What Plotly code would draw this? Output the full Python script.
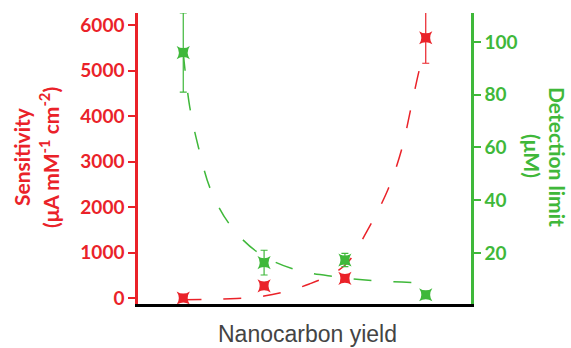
import plotly.graph_objects as go

# Data
categories = [1, 2, 3, 4]
sensitivity = [0, 265, 430, 5720]
sensitivity_err = [0, 0, 0, 560]
detection = [96, 16.3, 17.3, 4.1]
detection_err = [15, 4.7, 2.5, 0]

# Fit curves
red_fit_x = [1.0, 1.5, 2.0, 2.56, 3.0, 3.28, 3.53, 3.70, 3.82, 3.93, 3.98]
red_fit_y = [-40, -20, 44, 308, 720, 1494, 2374, 3253, 4198, 5077, 5330]
green_fit_x = [1.0, 1.08, 1.19, 1.34, 1.59, 1.94, 2.40, 2.90, 3.37, 3.99]
green_fit_y = [95.9, 75.4, 59.8, 43.9, 30.1, 19.8, 13.5, 10.9, 9.4, 8.6]

RED = "#ea2229"
GREEN = "#3fb83a"

L, R, T, B = 138, 100, 13, 44
W, H = 571, 348

fig = go.Figure()

fig.add_trace(go.Scatter(
    x=red_fit_x, y=red_fit_y, mode="lines", line=dict(color=RED, width=1.5, dash="18px,22px", shape="spline"),
    hoverinfo="skip", showlegend=False, yaxis="y"))
fig.add_trace(go.Scatter(
    x=green_fit_x, y=green_fit_y, mode="lines", line=dict(color=GREEN, width=1.5, dash="18px,22px", shape="spline"),
    hoverinfo="skip", showlegend=False, yaxis="y2"))

fig.add_trace(go.Scatter(
    x=categories, y=sensitivity, mode="markers",
    marker=dict(symbol="star-square", size=12, color=RED),
    error_y=dict(type="data", array=sensitivity_err, color=RED, thickness=1.2, width=3.5),
    showlegend=False, yaxis="y"))
fig.add_trace(go.Scatter(
    x=categories, y=detection, mode="markers",
    marker=dict(symbol="star-square", size=12, color=GREEN),
    error_y=dict(type="data", array=detection_err, color=GREEN, thickness=1.2, width=3.5),
    showlegend=False, yaxis="y2"))

tickfont_red = dict(family="Lato", size=19, color=RED, weight="bold")
tickfont_green = dict(family="Lato", size=19, color=GREEN, weight="bold")
title_red = dict(family="Lato", size=21, color=RED, weight="bold")
title_green = dict(family="Lato", size=21, color=GREEN, weight="bold")

fig.update_layout(
    width=W, height=H,
    margin=dict(l=L, r=R, t=T, b=B, autoexpand=False),
    paper_bgcolor="white", plot_bgcolor="white",
    xaxis=dict(range=[0.44, 4.56], showgrid=False, zeroline=False, showticklabels=False,
               ticks="", showline=True, linecolor="black", linewidth=3, automargin=False),
    yaxis=dict(range=[-132, 6264], showgrid=False, zeroline=False, automargin=False,
               tickvals=[0, 1000, 2000, 3000, 4000, 5000, 6000],
               ticks="outside", ticklen=7, tickwidth=2, tickcolor=RED,
               showline=True, linecolor=RED, linewidth=2.5,
               tickfont=tickfont_red),
    yaxis2=dict(range=[0.6, 111], overlaying="y", side="right", showgrid=False, zeroline=False,
                automargin=False,
                tickvals=[20, 40, 60, 80, 100],
                ticks="outside", ticklen=7, tickwidth=2, tickcolor=GREEN,
                showline=True, linecolor=GREEN, linewidth=2.5,
                tickfont=tickfont_green),
)

pw = W - L - R
ph = H - T - B


def px2paper(px, py):
    return (px - L) / pw, 1 - (py - T) / ph


annots = [
    ("Sensitivity", -90, 21, 157, title_red),
    ("(μA mM<sup>-1</sup> cm<sup>-2</sup>)", -90, 49, 157, title_red),
    ("Detection limit", 90, 558, 157, title_green),
    ("(μM)", 90, 533, 156, title_green),
    ("Nanocarbon yield", 0, 307, 334, dict(family="Liberation Sans", size=23, color="#444444")),
]
for text, ang, px, py, font in annots:
    xx, yy = px2paper(px, py)
    fig.add_annotation(text=text, textangle=ang, x=xx, y=yy, xref="paper", yref="paper",
                       showarrow=False, font=font, xanchor="center", yanchor="middle")

fig.write_html("out.html", config={"displayModeBar": False},
               post_script="document.body.style.margin='0';")
